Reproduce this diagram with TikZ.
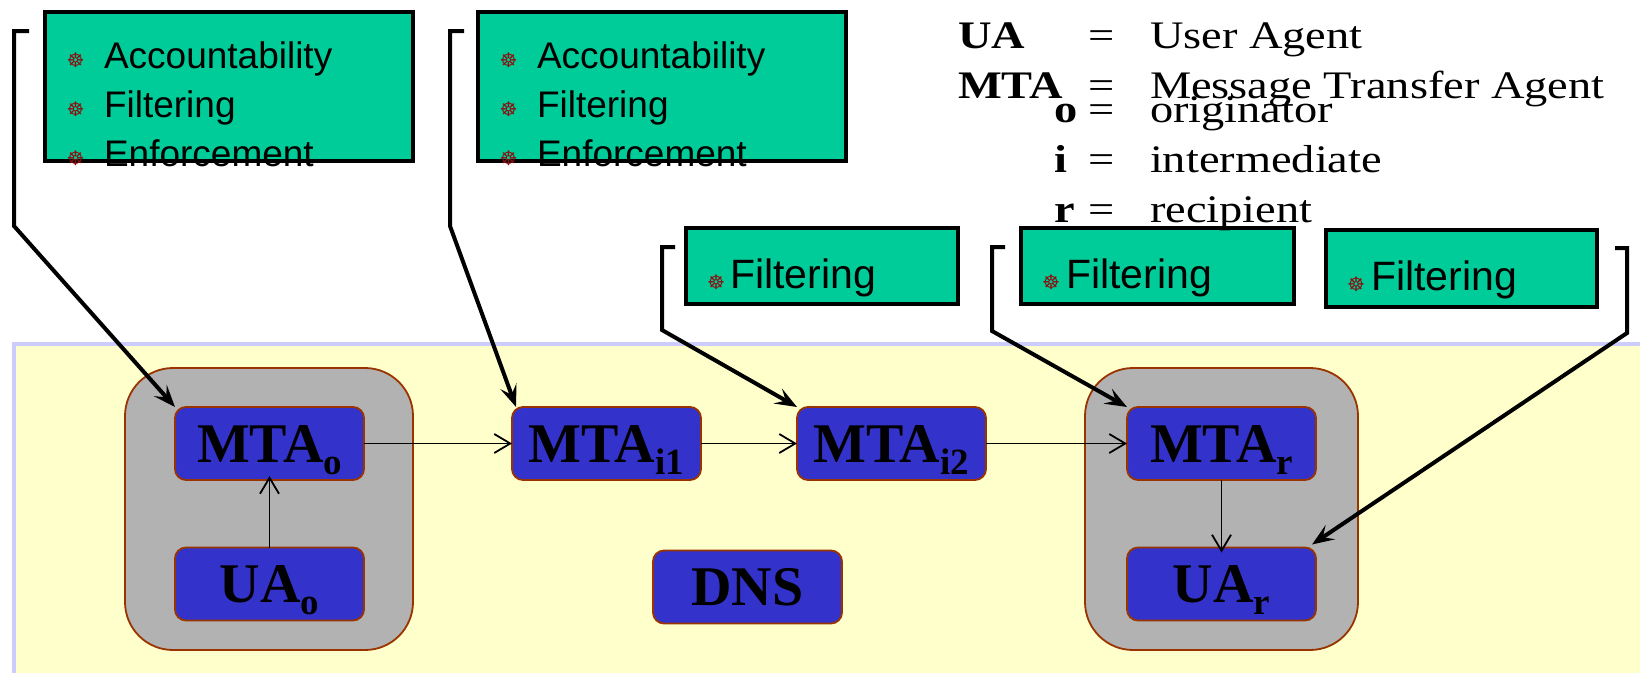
\documentclass[tikz,border=0pt]{standalone}
\usepackage{fontspec}
\setmainfont{Liberation Serif}
\newfontfamily\legendfont[FakeStretch=1.19]{Liberation Serif}
\newfontfamily\boxsans{Liberation Sans}
\newfontfamily\symfont{DejaVu Sans}
\usetikzlibrary{arrows.meta}
\definecolor{mintfill}{HTML}{00CC99}
\definecolor{agentblue}{HTML}{3333CC}
\definecolor{rustline}{HTML}{993300}
\definecolor{hostgray}{HTML}{B2B2B2}
\definecolor{paleyellow}{HTML}{FFFFCC}
\definecolor{paleblue}{HTML}{CCCCFF}
\definecolor{bulletred}{HTML}{8B1010}
% lowered index after an agent name
\newcommand\lowidx[1]{\raisebox{-12pt}{\fontsize{37}{37}\selectfont #1}}
\begin{document}
\begin{tikzpicture}[x=1pt,y=-1pt,
  every node/.style={inner sep=0pt, outer sep=0pt},
  agent/.style={draw=rustline, line width=1.8pt, fill=agentblue, rounded corners=11pt,
    minimum width=189pt, minimum height=73pt,
    font=\fontsize{56}{60}\selectfont\bfseries, text height=37pt, text depth=0pt},
  host/.style={draw=rustline, line width=1.8pt, fill=hostgray, rounded corners=48pt},
  rolebox/.style={draw=black, line width=4pt, fill=mintfill},
  item/.style={anchor=base west, font=\boxsans\fontsize{37}{40}\selectfont},
  fitem/.style={anchor=base west, font=\boxsans\fontsize{41}{45}\selectfont},
  bul/.style={text=bulletred, font=\symfont\fontsize{20}{20}\selectfont},
  flow/.style={line width=1.8pt, -{Straight Barb[length=16pt,width=19pt,line width=1.8pt]}},
  bracket/.style={line width=4pt, -{Stealth[length=22pt,width=17pt,inset=9pt]}},
  legend/.style={anchor=base west, font=\legendfont\fontsize{39}{42}\selectfont},
  legendeq/.style={anchor=base, font=\legendfont\fontsize{39}{42}\selectfont}
]
\useasboundingbox (0,0) rectangle (1640,672);

% mail transport area
\fill[paleyellow] (14,344) rectangle (1650,680);
\draw[paleblue, line width=4pt] (14,680) -- (14,344) -- (1650,344);

% originator and recipient hosts
\node[host, minimum width=288pt, minimum height=282pt] (hosto) at (269,509) {};
\node[host, minimum width=273pt, minimum height=282pt] (hostr) at (1221.5,509) {};

% agents
\node[agent] (mtao)  at (269.5,443.5) {MTA\lowidx{o}};
\node[agent] (uao)   at (269.5,584)   {UA\lowidx{o}};
\node[agent] (mtai1) at (606.5,443.5) {MTA\lowidx{i1}};
\node[agent] (mtai2) at (891.5,443.5) {MTA\lowidx{i2}};
\node[agent] (dns)   at (747.5,587)   {DNS};
\node[agent] (mtar)  at (1221.5,443.5) {MTA\lowidx{r}};
\node[agent] (uar)   at (1221.5,584)  {UA\lowidx{r}};

% message flow
\draw[flow] (uao) -- ([yshift=4pt]mtao.south);
\draw[flow] (mtao) -- (mtai1);
\draw[flow] (mtai1) -- (mtai2);
\draw[flow] (mtai2) -- (mtar);
\draw[flow] (mtar) -- ([yshift=-5pt]uar.north);

% role boxes
\node[rolebox, minimum width=368pt, minimum height=149pt] (gb1) at (229,86.5) {};
\node[rolebox, minimum width=368pt, minimum height=149pt] (gb2) at (662,86.5) {};
\node[rolebox, minimum width=272pt, minimum height=76pt] (gb3) at (822,266) {};
\node[rolebox, minimum width=273pt, minimum height=76pt] (gb4) at (1157,266) {};
\node[rolebox, minimum width=271pt, minimum height=77pt] (gb5) at (1461,268) {};

% role lists
\node[bul] (b1a) at (75.5,60) {☸};
\node[bul] (b1b) at (75.5,109) {☸};
\node[bul] (b1c) at (75.5,158) {☸};
\node[item] (t1a) at (104,68) {Accountability};
\node[item] (t1b) at (104,117) {Filtering};
\node[item] (t1c) at (104,166) {Enforcement};
\node[bul] (b2a) at (508.5,60) {☸};
\node[bul] (b2b) at (508.5,109) {☸};
\node[bul] (b2c) at (508.5,158) {☸};
\node[item] (t2a) at (537,68) {Accountability};
\node[item] (t2b) at (537,117) {Filtering};
\node[item] (t2c) at (537,166) {Enforcement};
\node[bul] (b3) at (716,282) {☸};
\node[fitem] (t3) at (730,288) {Filtering};
\node[bul] (b4) at (1051,282) {☸};
\node[fitem] (t4) at (1066,288) {Filtering};
\node[bul] (b5) at (1356,284) {☸};
\node[fitem] (t5) at (1371,290) {Filtering};

% legend
\node[legend] (k1) at (958,48) {\bfseries UA};
\node[legendeq] (e1) at (1102,48) {=};
\node[legend] (v1) at (1150,48) {User Agent};
\node[legend] (k2) at (958,98) {\bfseries MTA};
\node[legendeq] (e2) at (1102,98) {=};
\node[legend] (v2) at (1150,98) {Message Transfer Agent};
\node[legend] (k3) at (1054,122) {\bfseries o};
\node[legendeq] (e3) at (1102,122) {=};
\node[legend] (v3) at (1150,122) {originator};
\node[legend] (k4) at (1054,172) {\bfseries i};
\node[legendeq] (e4) at (1102,172) {=};
\node[legend] (v4) at (1150,172) {intermediate};
\node[legend] (k5) at (1054,222) {\bfseries r};
\node[legendeq] (e5) at (1102,222) {=};
\node[legend] (v5) at (1150,222) {recipient};

% brackets tying roles to agents
\coordinate (r1a) at (29,31);   \coordinate (r1b) at (14,31);   \coordinate (r1c) at (14,226);
\coordinate (r2a) at (464,31);  \coordinate (r2b) at (450,31);  \coordinate (r2c) at (450,226);
\coordinate (r3a) at (675,247); \coordinate (r3b) at (662,247); \coordinate (r3c) at (662,330);
\coordinate (r4a) at (1005,247);\coordinate (r4b) at (992,247); \coordinate (r4c) at (992,331);
\coordinate (r5a) at (1615,248);\coordinate (r5b) at (1627,248);\coordinate (r5c) at (1627,333);
\draw[bracket] (r1a) -- (r1b) -- (r1c) -- (mtao.north west);
\draw[bracket] (r2a) -- (r2b) -- (r2c) -- ([xshift=4pt]mtai1.north west);
\draw[bracket] (r3a) -- (r3b) -- (r3c) -- (mtai2.north west);
\draw[bracket] (r4a) -- (r4b) -- (r4c) -- (mtar.north west);
\draw[bracket] (r5a) -- (r5b) -- (r5c) -- ([xshift=-4pt,yshift=3pt]uar.north east);
\end{tikzpicture}
\end{document}
